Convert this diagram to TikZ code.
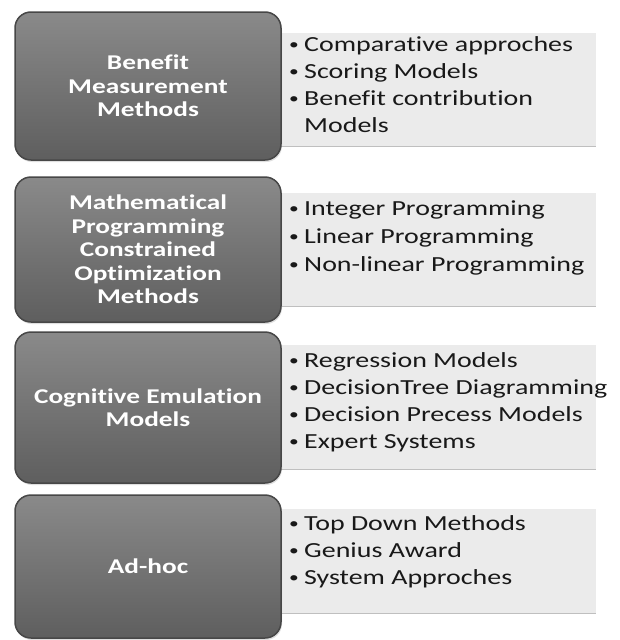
\documentclass[tikz,border=0pt]{standalone}
\usepackage{fontspec}
\setmainfont{Carlito}[FakeStretch=1.3, Ligatures=NoCommon]
\usetikzlibrary{shadows}

\tikzset{
  category/.style={rounded corners=16pt, draw=black!72, line width=1.5pt,
    top color=black!46, bottom color=black!63,
    minimum width=266pt, minimum height=#1, align=center, text=white,
    font=\bfseries\fontsize{21}{23.5}\selectfont,
    drop shadow={opacity=0.25, shadow xshift=1pt, shadow yshift=-2pt}},
  panel/.style={fill=black!8, draw=none, anchor=north west,
    minimum width=320pt, minimum height=#1, inner sep=0pt},
  panelrule/.style={draw=black!25, line width=0.6pt},
  bullet/.style={anchor=base west, inner sep=0pt, text=black!90,
    font=\fontsize{21.5}{27}\selectfont},
}
\newcommand\bul{\makebox[15pt][l]{\fontsize{15}{15}\selectfont\raisebox{1.5pt}{\textbullet}}}
\newcommand\indt{\hspace*{15pt}}

\begin{document}
\begin{tikzpicture}[x=1pt,y=-1pt]
  \useasboundingbox (0,0) rectangle (619,640);
  \fill[white] (0,0) rectangle (619,640);

  % light panels behind the category boxes
  \node[panel=113pt] (p1) at (276,33) {};
  \node[panel=113pt] (p2) at (276,193) {};
  \node[panel=124pt] (p3) at (276,345) {};
  \node[panel=104pt] (p4) at (276,509) {};
  \foreach \p in {p1,p2,p3,p4}
    \draw[panelrule] (\p.south west) -- (\p.south east);

  % category boxes
  \node[category=148pt] (c1) at (148,86) {Benefit\\Measurement\\Methods};
  \node[category=145pt] (c2) at (148,249.5) {Mathematical\\Programming\\Constrained\\Optimization\\Methods};
  \node[category=151pt] (c3) at (148,407.5) {Cognitive Emulation\\Models};
  \node[category=143pt] (c4) at (148,566.5) {Ad-hoc};

  % bullet lists
  \node[bullet] (b11) at (289,51)  {\bul Comparative approches};
  \node[bullet] (b12) at (289,78)  {\bul Scoring Models};
  \node[bullet] (b13) at (289,105) {\bul Benefit contribution};
  \node[bullet] (b14) at (289,132) {\indt Models};

  \node[bullet] (b21) at (289,215) {\bul Integer Programming};
  \node[bullet] (b22) at (289,243) {\bul Linear Programming};
  \node[bullet] (b23) at (289,271) {\bul Non-linear Programming};

  \node[bullet] (b31) at (289,367) {\bul Regression Models};
  \node[bullet] (b32) at (289,394) {\bul DecisionTree Diagramming};
  \node[bullet] (b33) at (289,421) {\bul Decision Precess Models};
  \node[bullet] (b34) at (289,448) {\bul Expert Systems};

  \node[bullet] (b41) at (289,530) {\bul Top Down Methods};
  \node[bullet] (b42) at (289,557) {\bul Genius Award};
  \node[bullet] (b43) at (289,584) {\bul System Approches};
\end{tikzpicture}
\end{document}
